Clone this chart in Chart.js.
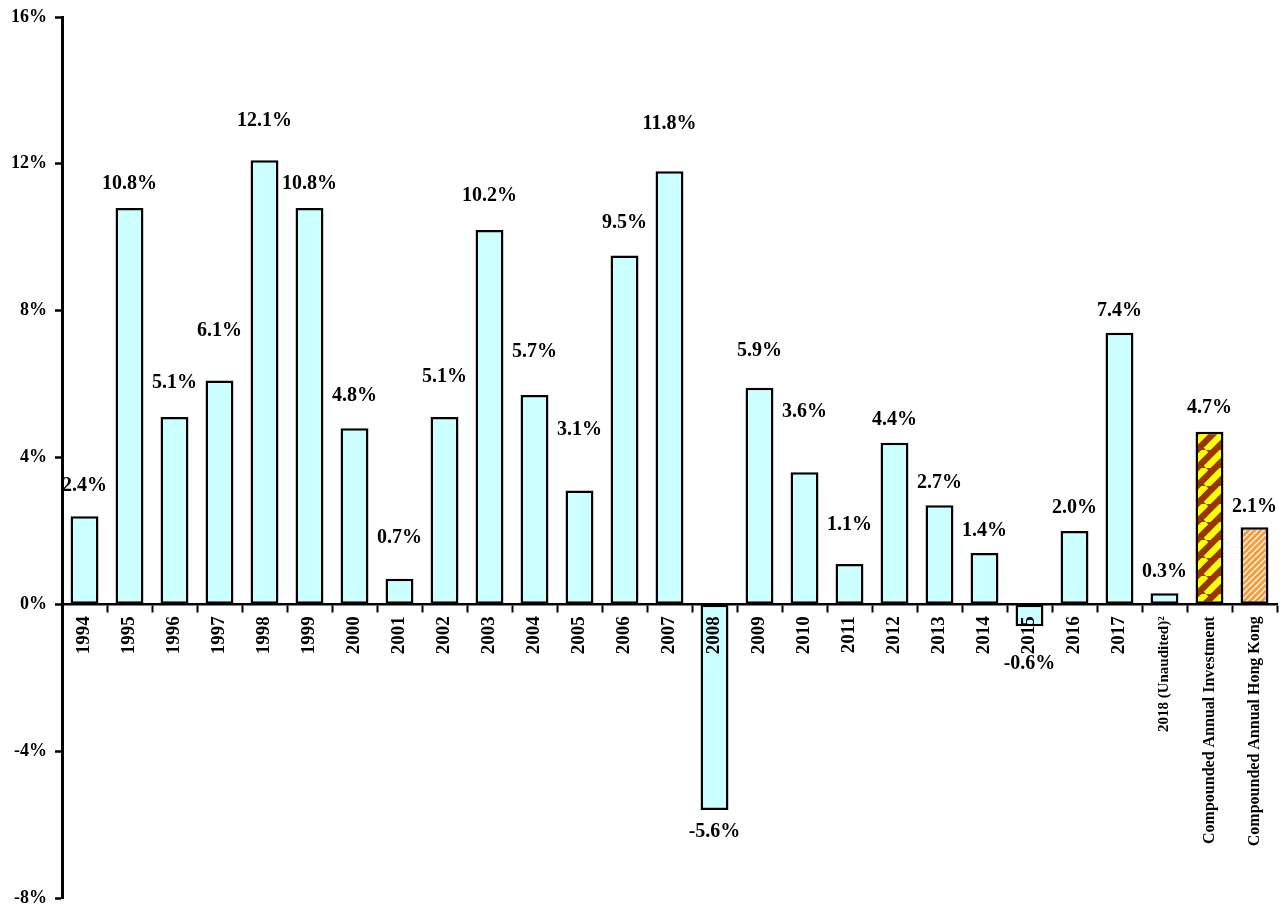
<!DOCTYPE html>
<html>
<head>
<meta charset="utf-8">
<script src="https://cdn.jsdelivr.net/npm/chart.js@4/dist/chart.umd.min.js"></script>
<style>
  body { margin: 0; background: #fff; }
  #wrap { width: 1288px; height: 911px; }
</style>
</head>
<body>
<div id="wrap"><canvas id="returnChart" width="1288" height="911"></canvas></div>
<script>
// chart values
const years = ['1994', '1995', '1996', '1997', '1998', '1999', '2000', '2001', '2002', '2003',
  '2004', '2005', '2006', '2007', '2008', '2009', '2010', '2011', '2012', '2013',
  '2014', '2015', '2016', '2017', '2018 (Unaudited)²',
  'Compounded Annual Investment', 'Compounded Annual Hong Kong'];
const returns = [2.4, 10.8, 5.1, 6.1, 12.1, 10.8, 4.8, 0.7, 5.1, 10.2,
  5.7, 3.1, 9.5, 11.8, -5.6, 5.9, 3.6, 1.1, 4.4, 2.7,
  1.4, -0.6, 2.0, 7.4, 0.3, 4.7, 2.1];
const yMin = -8;
const yMax = 16;
const yStep = 4;

// how far each value label sits from the end of its bar (px)
const labelGap = [30, 24, 34, 50, 39, 24, 32, 41, 40, 34, 43, 61, 33, 47, 22, 37, 60, 39, 23, 22,
  22, 37, 23, 22, 21, 24, 20];

const FONT = '"Liberation Serif", "Times New Roman", serif';
Chart.defaults.font.family = FONT;
Chart.defaults.color = '#000';

const canvas = document.getElementById('returnChart');
const ctx = canvas.getContext('2d');

function stripePattern(bg, fg, size, width) {
  const c = document.createElement('canvas');
  c.width = size;
  c.height = size;
  const g = c.getContext('2d');
  g.fillStyle = bg;
  g.fillRect(0, 0, size, size);
  g.strokeStyle = fg;
  g.lineWidth = width;
  for (let k = -1; k <= 1; k++) {
    g.beginPath();
    g.moveTo(k * size, size);
    g.lineTo(k * size + size, 0);
    g.stroke();
  }
  return ctx.createPattern(c, 'repeat');
}

const investFill = stripePattern('#993300', '#FFFF00', 18, 6.5);
const inflationFill = stripePattern('#FF9933', '#CCFFFF', 6, 1.4);

const barFills = years.map(y => {
  if (y.indexOf('Investment') >= 0) return investFill;
  if (y.indexOf('Hong Kong') >= 0) return inflationFill;
  return '#CCFFFF';
});

const valueLabels = {
  id: 'valueLabels',
  afterDatasetsDraw(chart) {
    const c = chart.ctx;
    const meta = chart.getDatasetMeta(0);
    c.save();
    c.font = 'bold 20px ' + FONT;
    c.fillStyle = '#000';
    c.textAlign = 'center';
    c.textBaseline = 'middle';
    meta.data.forEach((bar, i) => {
      const v = returns[i];
      const y = v >= 0 ? bar.y - labelGap[i] : bar.y + labelGap[i];
      c.fillText(v.toFixed(1) + '%', bar.x, y);
    });
    c.restore();
  }
};

new Chart(ctx, {
  type: 'bar',
  data: {
    labels: years,
    datasets: [{
      data: returns,
      backgroundColor: barFills,
      borderColor: '#000',
      borderWidth: 2.5,
      borderSkipped: false,
      categoryPercentage: 1,
      barPercentage: 0.62
    }]
  },
  options: {
    responsive: false,
    animation: false,
    layout: { padding: { top: 17, bottom: 13, left: 0, right: 11 } },
    plugins: {
      legend: { display: false },
      tooltip: { enabled: false }
    },
    scales: {
      x: {
        position: { y: 0 },
        offset: true,
        afterFit(scale) { scale.height = 0; },
        grid: {
          offset: true,
          drawOnChartArea: false,
          drawTicks: true,
          tickLength: 7,
          tickWidth: 2,
          tickColor: '#000'
        },
        border: { display: true, color: '#000', width: 2.5, z: 1 },
        ticks: {
          z: 1,
          autoSkip: false,
          minRotation: 90,
          maxRotation: 90,
          padding: 5,
          color: '#000',
          font: function(c) {
            const label = years[c.index] || '';
            if (label.indexOf('2018') === 0) return { size: 15, weight: 'bold' };
            if (label.length > 20) return { size: 16, weight: 'bold' };
            return { size: 19, weight: 'bold' };
          }
        }
      },
      y: {
        min: yMin,
        max: yMax,
        afterFit(scale) {
          scale.width = 62;
          scale.paddingTop = 0;
          scale.paddingBottom = 0;
        },
        grid: {
          drawOnChartArea: false,
          drawTicks: true,
          tickLength: 7,
          tickWidth: 2.5,
          tickColor: '#000'
        },
        border: { display: true, color: '#000', width: 3 },
        ticks: {
          stepSize: yStep,
          padding: 8,
          color: '#000',
          font: { size: 18, weight: 'bold' },
          callback: v => v + '%'
        }
      }
    }
  },
  plugins: [valueLabels]
});
</script>
</body>
</html>
